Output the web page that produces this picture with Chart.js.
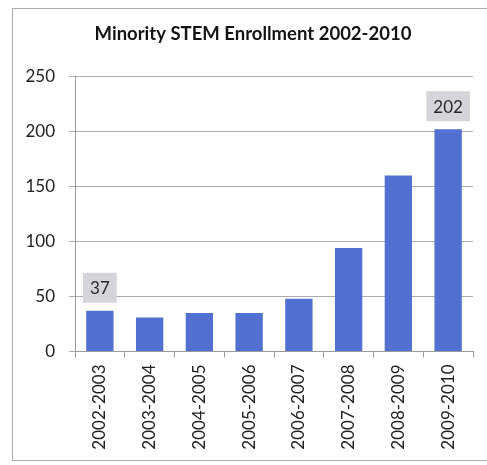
<!DOCTYPE html>
<html>
<head>
<meta charset="utf-8">
<script src="https://cdn.jsdelivr.net/npm/chart.js@4.4.1/dist/chart.umd.min.js"></script>
<style>
  html, body { margin: 0; padding: 0; background: #ffffff; }
  #wrap { position: relative; width: 487px; height: 465px; overflow: hidden; }
  #frame { position: absolute; left: 12px; top: 8px; width: 500px; height: 453px; border: 1px solid #a9a9a9; box-sizing: border-box; }
  #c { position: absolute; left: 0; top: 0; }
</style>
</head>
<body>
<div id="wrap">
  <div id="frame"></div>
  <canvas id="c" width="487" height="465"></canvas>
</div>
<script>
const titleText = 'Minority STEM Enrollment 2002-2010';
const categories = ['2002-2003','2003-2004','2004-2005','2005-2006','2006-2007','2007-2008','2008-2009','2009-2010'];
const enrollment = [37, 31, 35, 35, 48, 94, 160, 202];
const labeledBars = [0, 7];
const yTicks = [0, 50, 100, 150, 200, 250];

const FONT = 'Lato, "Open Sans", sans-serif';

const titlePlugin = {
  id: 'fixedTitle',
  afterDraw(chart) {
    const ctx = chart.ctx;
    ctx.save();
    ctx.font = 'bold 18.5px ' + FONT;
    ctx.fillStyle = '#141414';
    ctx.textAlign = 'center';
    ctx.textBaseline = 'middle';
    ctx.fillText(titleText, 253, 34);
    ctx.restore();
  }
};

const boxLabelPlugin = {
  id: 'boxLabels',
  afterDatasetsDraw(chart) {
    const ctx = chart.ctx;
    const meta = chart.getDatasetMeta(0);
    ctx.save();
    ctx.font = '17px ' + FONT;
    labeledBars.forEach(i => {
      const bar = meta.data[i];
      const txt = String(enrollment[i]);
      const w = ctx.measureText(txt).width + 14;
      const h = 30;
      const bx = bar.x - w / 2;
      const by = bar.y - 8 - h;
      ctx.fillStyle = '#d5d5d9';
      ctx.fillRect(bx, by, w, h);
      ctx.fillStyle = '#2a2a2a';
      ctx.textAlign = 'center';
      ctx.textBaseline = 'middle';
      ctx.fillText(txt, bar.x, by + h / 2 + 1);
    });
    ctx.restore();
  }
};

new Chart(document.getElementById('c'), {
  type: 'bar',
  data: {
    labels: categories,
    datasets: [{
      data: enrollment,
      backgroundColor: '#5270cf',
      borderWidth: 0,
      barPercentage: 0.55,
      categoryPercentage: 1.0
    }]
  },
  options: {
    responsive: false,
    animation: false,
    devicePixelRatio: 1,
    layout: { padding: { left: 0, right: 14, top: 76.5, bottom: 0 } },
    plugins: {
      legend: { display: false },
      title: { display: false },
      tooltip: { enabled: false }
    },
    scales: {
      x: {
        offset: true,
        grid: { offset: true, drawOnChartArea: false, drawTicks: true, tickLength: 6, color: '#9a9a9a' },
        border: { display: true, color: '#9a9a9a' },
        ticks: { minRotation: 90, maxRotation: 90, padding: 7, color: '#222222', font: { family: FONT, size: 17 } },
        afterFit(scale) { scale.height = 465 - 351.5; }
      },
      y: {
        min: 0, max: 250,
        afterBuildTicks(scale) { scale.ticks = yTicks.map(v => ({ value: v })); },
        grid: { color: '#aaaaaa', tickLength: 6 },
        border: { display: true, color: '#9a9a9a' },
        ticks: { padding: 14, color: '#222222', font: { family: FONT, size: 17 } },
        afterFit(scale) { scale.width = 75; }
      }
    }
  },
  plugins: [titlePlugin, boxLabelPlugin]
});
</script>
</body>
</html>
